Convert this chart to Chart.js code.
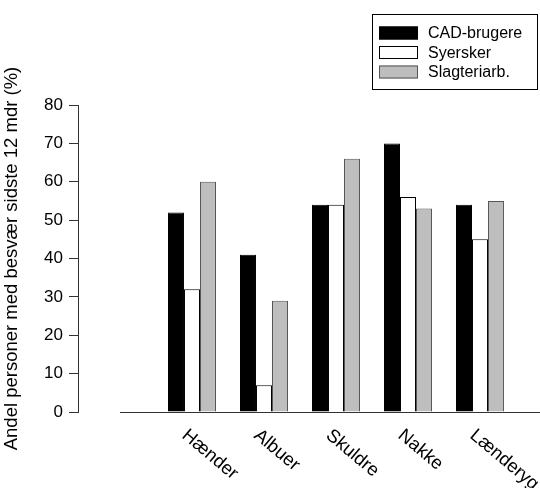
<!DOCTYPE html>
<html>
<head>
<meta charset="utf-8">
<script src="https://cdn.jsdelivr.net/npm/chart.js@4/dist/chart.umd.min.js"></script>
<style>
    html, body { margin: 0; padding: 0; background: #fff; }
    #wrap { width: 540px; height: 488px; }
</style>
</head>
<body>
<div id="wrap"><canvas id="chart" width="540" height="488"></canvas></div>
<script>
// ============================================================
// Besvær sidste 12 mdr - grouped bars, R-style axes
// ============================================================
const categories = ['Hænder', 'Albuer', 'Skuldre', 'Nakke', 'Lænderyg'];
const cadBrugere = [52, 41, 54, 70, 54];
const syersker = [32, 7, 54, 56, 45];
const slagteri = [60, 29, 66, 53, 55];
const yTicks = [0, 10, 20, 30, 40, 50, 60, 70, 80];
const yTitle = 'Andel personer med besvær sidste 12 mdr (%)';

const FONT = '"Liberation Sans", Arial, sans-serif';

// category index -> {x, y} points for the linear x scale
const toPoints = (arr) => arr.map((v, i) => ({ x: i, y: v }));

// Axis baseline, rotated category labels and a framed legend
const rPlot = {
    id: 'rPlot',
    afterDraw(chart) {
        const ctx = chart.ctx;
        const xs = chart.scales.x;
        const ys = chart.scales.y;
        const area = chart.chartArea;
        const y0 = ys.getPixelForValue(0);

        ctx.save();
        // baseline
        ctx.strokeStyle = '#333';
        ctx.lineWidth = 1;
        ctx.beginPath();
        ctx.moveTo(xs.getPixelForValue(-1), y0 + 0.5);
        ctx.lineTo(area.right, y0 + 0.5);
        ctx.stroke();

        // category labels, rotated clockwise
        ctx.fillStyle = '#000';
        ctx.font = '18.5px ' + FONT;
        ctx.textAlign = 'left';
        ctx.textBaseline = 'alphabetic';
        categories.forEach((c, i) => {
            const px = xs.getPixelForValue(i);
            ctx.save();
            ctx.translate(px - 11, y0 + 25);
            ctx.rotate(40 * Math.PI / 180);
            ctx.fillText(c, 0, 0);
            ctx.restore();
        });

        // legend box
        const box = { x: 372, y: 14, w: 165, h: 75 };
        ctx.strokeStyle = '#000';
        ctx.strokeRect(box.x + 0.5, box.y + 0.5, box.w, box.h);
        ctx.font = '16px ' + FONT;
        ctx.textBaseline = 'middle';
        chart.data.datasets.forEach((ds, i) => {
            const cy = box.y + 19 + i * 19.5;
            ctx.fillStyle = ds.backgroundColor;
            ctx.fillRect(box.x + 7, cy - 6.5, 39, 13);
            ctx.strokeStyle = ds.borderColor;
            ctx.strokeRect(box.x + 7.5, cy - 6, 38, 12);
            ctx.fillStyle = '#000';
            ctx.fillText(ds.label, box.x + 56, cy + 1);
        });
        ctx.restore();
    }
};

const chart = new Chart(document.getElementById('chart'), {
    type: 'bar',
    data: {
        datasets: [
            {
                label: 'CAD-brugere',
                data: toPoints(cadBrugere),
                backgroundColor: '#000000',
                borderColor: '#000000',
                borderWidth: 1
            },
            {
                label: 'Syersker',
                data: toPoints(syersker),
                backgroundColor: '#ffffff',
                borderColor: '#000000',
                borderWidth: 1
            },
            {
                label: 'Slagteriarb.',
                data: toPoints(slagteri),
                backgroundColor: '#bebebe',
                borderColor: '#555555',
                borderWidth: 1
            }
        ]
    },
    options: {
        responsive: false,
        animation: false,
        categoryPercentage: 0.667,
        barPercentage: 1,
        layout: { padding: { top: 105, left: 0, right: 0, bottom: 0 } },
        plugins: {
            legend: { display: false },
            tooltip: { enabled: false }
        },
        scales: {
            x: {
                type: 'linear',
                offset: false,
                min: -1.583,
                max: 4.833,
                // one tick per category so the bar ruler uses the category spacing
                afterBuildTicks: (s) => { s.ticks = categories.map((c, i) => ({ value: i })); },
                grid: { display: false },
                border: { display: false },
                ticks: { display: false },
                afterFit: (s) => { s.height = 76; }
            },
            y: {
                min: 0,
                max: 80,
                afterBuildTicks: (s) => { s.ticks = yTicks.map(v => ({ value: v })); },
                afterFit: (s) => { s.width = 78; },
                grid: {
                    drawOnChartArea: false,
                    drawTicks: true,
                    tickLength: 9,
                    color: '#333'
                },
                border: { display: true, color: '#333', width: 1 },
                ticks: {
                    color: '#000',
                    padding: 6,
                    font: { family: FONT, size: 17 }
                },
                title: {
                    display: true,
                    text: yTitle,
                    color: '#000',
                    padding: { top: 1, bottom: 0 },
                    font: { family: FONT, size: 18.5 }
                }
            }
        }
    },
    plugins: [rPlot]
});
</script>
</body>
</html>
